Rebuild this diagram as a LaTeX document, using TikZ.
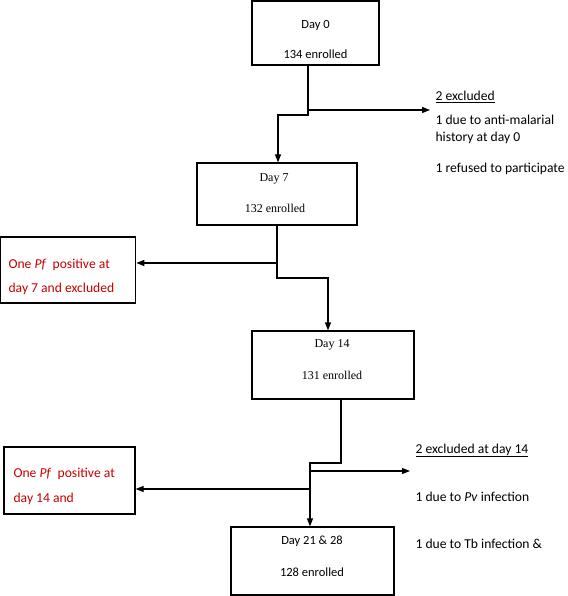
\documentclass[tikz,border=0pt]{standalone}
\usepackage{fontspec}
\setmainfont{Liberation Serif}
\newfontfamily\calib{Carlito}
\usetikzlibrary{arrows.meta}
\definecolor{pfred}{RGB}{200,0,0}

\begin{document}
\begin{tikzpicture}[x=1pt, y=1pt, line width=1.2pt, >={Triangle[length=8pt,width=6pt]},
  box/.style = {draw, rectangle, inner sep=0pt},
  cal/.style = {font=\calib\fontsize{12.5}{15}\selectfont, anchor=base, inner sep=0pt},
  tms/.style = {font=\fontsize{12}{14}\selectfont, anchor=base, inner sep=0pt},
  txt/.style = {cal, font=\calib\fontsize{13.6}{16}\selectfont, anchor=base west},
  redtxt/.style = {txt, text=pfred}]
\useasboundingbox (0,0) rectangle (567,-596);

% boxes
\node[box, minimum width=127pt, minimum height=64pt] (d0) at (315.5,-33) {};
\node[box, minimum width=160pt, minimum height=62pt] (d7) at (277,-194) {};
\node[box, minimum width=135pt, minimum height=66pt] (pf7) at (68.2,-270) {};
\node[box, minimum width=162pt, minimum height=68pt] (d14) at (333,-365) {};
\node[box, minimum width=131pt, minimum height=67pt] (pf14) at (69.5,-480.5) {};
\node[box, minimum width=163pt, minimum height=68pt] (d21) at (312.5,-561) {};

% box texts
\node[cal] (d0a) at (315.5,-29) {Day 0};
\node[cal] (d0b) at (315.5,-59) {134 enrolled};
\node[tms] (d7a) at (274,-181) {Day 7};
\node[tms] (d7b) at (275,-212) {132 enrolled};
\node[tms] (d14a) at (332,-347) {Day 14};
\node[tms] (d14b) at (332,-379) {131 enrolled};
\node[cal] (d21a) at (312,-544) {Day 21 \& 28};
\node[cal] (d21b) at (312,-576) {128 enrolled};

% side texts
\node[txt] (ex0) at (435,-101) {\underline{2 excluded}};
\node[txt] (ex0a) at (435,-125) {1 due to anti-malarial};
\node[txt] (ex0b) at (435,-142) {history at day 0};
\node[txt] (ex0c) at (435,-172) {1 refused to participate};
\node[redtxt] (pf7a) at (8,-268) {One \textit{Pf}\ \ positive at};
\node[redtxt] (pf7b) at (8,-292) {day 7 and excluded};
\node[redtxt] (pf14a) at (13,-477) {One \textit{Pf}\ \ positive at};
\node[redtxt] (pf14b) at (13,-502) {day 14 and};
\node[txt] (ex14) at (415,-453) {\underline{2 excluded at day 14}};
\node[txt] (ex14a) at (415,-501) {1 due to \textit{Pv} infection};
\node[txt] (ex14b) at (415,-548) {1 due to Tb infection \&};

% connectors
\coordinate (s0) at (308,-110);
\coordinate (x0) at (430,-110);
\coordinate (k0) at (278,-115);
\draw[->] (d0.south -| s0) |- (k0) -- (k0 |- d7.north);
\draw[->] (s0) -- (x0);

\coordinate (s7) at (277,-263);
\coordinate (k7) at (328,-278);
\draw[->] (d7.south -| s7) |- (k7) -- (k7 |- d14.north);
\draw[->] (s7) -- (s7 -| pf7.east);

\coordinate (j14) at (341,-463);
\coordinate (k14) at (310,-463);
\coordinate (s14) at (310,-471);
\coordinate (x14) at (410,-471);
\coordinate (t14) at (310,-489);
\draw[->] (j14 |- d14.south) -- (j14) -- (k14) -- (k14 |- d21.north);
\draw[->] (s14) -- (x14);
\draw[->] (t14) -- (t14 -| pf14.east);
\end{tikzpicture}
\end{document}
